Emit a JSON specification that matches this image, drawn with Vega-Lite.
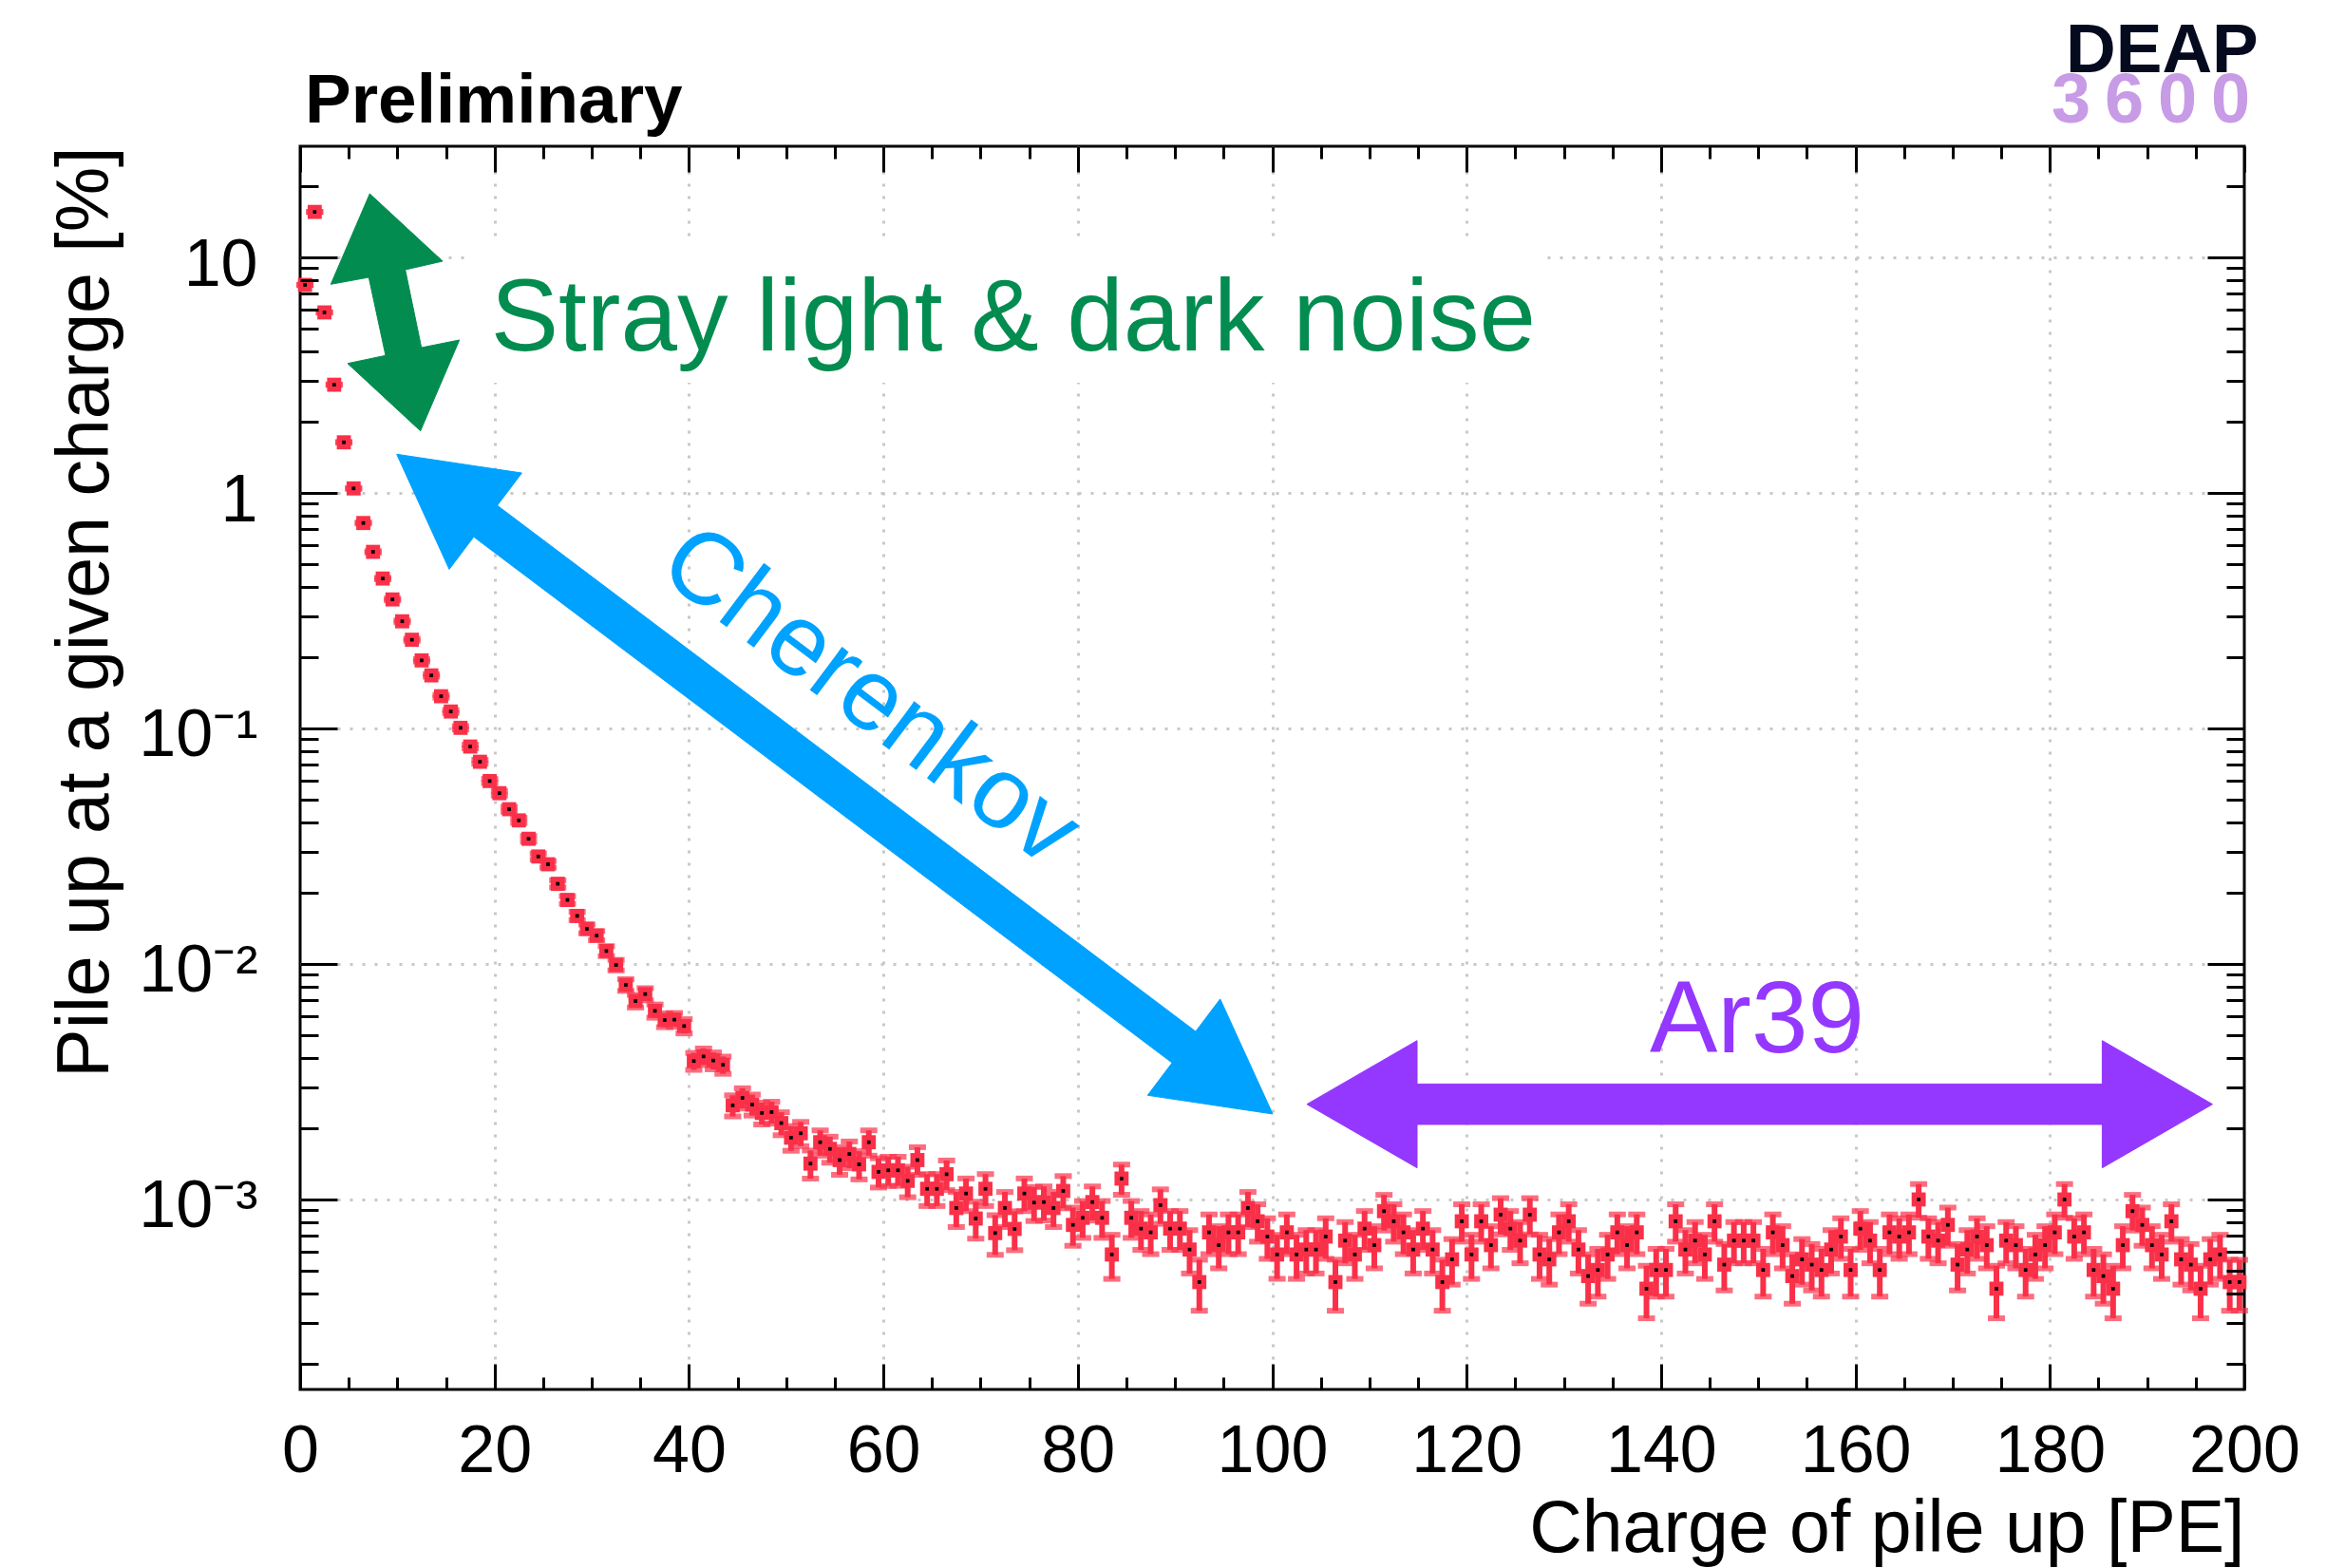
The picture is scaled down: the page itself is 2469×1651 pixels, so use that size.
{
  "$schema": "https://vega.github.io/schema/vega-lite/v6.json",
  "width": 2047,
  "height": 1309,
  "autosize": "none",
  "padding": {"left": 316, "top": 154, "right": 106, "bottom": 188},
  "background": "white",
  "config": {
    "view": {"stroke": "black", "strokeWidth": 3},
    "font": "Liberation Sans",
    "axis": {"labelFont": "Liberation Sans", "titleFont": "Liberation Sans", "labelColor": "black", "titleColor": "black", "tickColor": "black", "titleFontWeight": "normal"}
  },
  "resolve": {"axis": {"x": "independent", "y": "independent"}},
  "datasets": {
    "h": [
      {"q":0.5,"v":7.64,"e":0.0142},{"q":1.5,"v":15.6,"e":0.0203},{"q":2.5,"v":5.84,"e":0.0124},{"q":3.5,"v":2.88,"e":0.00874},{"q":4.5,"v":1.64,"e":0.00659},
      {"q":5.5,"v":1.045,"e":0.00526},{"q":6.5,"v":0.745,"e":0.00444},{"q":7.5,"v":0.562,"e":0.00386},{"q":8.5,"v":0.433,"e":0.00339},{"q":9.5,"v":0.353,"e":0.00306},
      {"q":10.5,"v":0.285,"e":0.00275},{"q":11.5,"v":0.238,"e":0.00251},{"q":12.5,"v":0.1945,"e":0.00227},{"q":13.5,"v":0.168,"e":0.00211},{"q":14.5,"v":0.137,"e":0.00191},
      {"q":15.5,"v":0.118,"e":0.00177},{"q":16.5,"v":0.1006,"e":0.00163},{"q":17.5,"v":0.0838,"e":0.00149},{"q":18.5,"v":0.0722,"e":0.00138},{"q":19.5,"v":0.0598,"e":0.00126},
      {"q":20.5,"v":0.0531,"e":0.00119},{"q":21.5,"v":0.0454,"e":0.0011},{"q":22.5,"v":0.0407,"e":0.00104},{"q":23.5,"v":0.034,"e":0.00095},{"q":24.5,"v":0.0286,"e":0.00087},
      {"q":25.5,"v":0.0265,"e":0.00084},{"q":26.5,"v":0.0219,"e":0.00076},{"q":27.5,"v":0.0187,"e":0.0007},{"q":28.5,"v":0.016,"e":0.00065},{"q":29.5,"v":0.0141,"e":0.00061},
      {"q":30.5,"v":0.0132,"e":0.00059},{"q":31.5,"v":0.01135,"e":0.00055},{"q":32.5,"v":0.0099,"e":0.00051},{"q":33.5,"v":0.00815,"e":0.000465},{"q":34.5,"v":0.00696,"e":0.000429},
      {"q":35.5,"v":0.00745,"e":0.000444},{"q":36.5,"v":0.00632,"e":0.000409},{"q":37.5,"v":0.00578,"e":0.000391},{"q":38.5,"v":0.0058,"e":0.000392},{"q":39.5,"v":0.00545,"e":0.00038},
      {"q":40.5,"v":0.00387,"e":0.00032},{"q":41.5,"v":0.00405,"e":0.000328},{"q":42.5,"v":0.00389,"e":0.000321},{"q":43.5,"v":0.00373,"e":0.000314},{"q":44.5,"v":0.00251,"e":0.000258},
      {"q":45.5,"v":0.0027,"e":0.000267},{"q":46.5,"v":0.00253,"e":0.000259},{"q":47.5,"v":0.00233,"e":0.000248},{"q":48.5,"v":0.00235,"e":0.00025},{"q":49.5,"v":0.00211,"e":0.000236},
      {"q":50.5,"v":0.00183,"e":0.00022},{"q":51.5,"v":0.00191,"e":0.000225},{"q":52.5,"v":0.00142,"e":0.000194},{"q":53.5,"v":0.00175,"e":0.000215},{"q":54.5,"v":0.00164,"e":0.000208},
      {"q":55.5,"v":0.00147,"e":0.000197},{"q":56.5,"v":0.00156,"e":0.000203},{"q":57.5,"v":0.00141,"e":0.000193},{"q":58.5,"v":0.00175,"e":0.000215},{"q":59.5,"v":0.00131,"e":0.000186},
      {"q":60.5,"v":0.00133,"e":0.000188},{"q":61.5,"v":0.00133,"e":0.000188},{"q":62.5,"v":0.0012,"e":0.000178},{"q":63.5,"v":0.00147,"e":0.000197},{"q":64.5,"v":0.00111,"e":0.000172},
      {"q":65.5,"v":0.00111,"e":0.000172},{"q":66.5,"v":0.00128,"e":0.000184},{"q":67.5,"v":0.00092,"e":0.000156},{"q":68.5,"v":0.00106,"e":0.000168},{"q":69.5,"v":0.00083,"e":0.000148},
      {"q":70.5,"v":0.00111,"e":0.000172},{"q":71.5,"v":0.00072,"e":0.000138},{"q":72.5,"v":0.00092,"e":0.000156},{"q":73.5,"v":0.00075,"e":0.000141},{"q":74.5,"v":0.00106,"e":0.000168},
      {"q":75.5,"v":0.00097,"e":0.00016},{"q":76.5,"v":0.000975,"e":0.000161},{"q":77.5,"v":0.00092,"e":0.000156},{"q":78.5,"v":0.001087,"e":0.00017},{"q":79.5,"v":0.00078,"e":0.000144},
      {"q":80.5,"v":0.000836,"e":0.000149},{"q":81.5,"v":0.000975,"e":0.000161},{"q":82.5,"v":0.000836,"e":0.000149},{"q":83.5,"v":0.000584,"e":0.000124},{"q":84.5,"v":0.001227,"e":0.00018},
      {"q":85.5,"v":0.000836,"e":0.000149},{"q":86.5,"v":0.000752,"e":0.000141},{"q":87.5,"v":0.000725,"e":0.000139},{"q":88.5,"v":0.000946,"e":0.000158},{"q":89.5,"v":0.000752,"e":0.000141},
      {"q":90.5,"v":0.000752,"e":0.000141},{"q":91.5,"v":0.000613,"e":0.000128},{"q":92.5,"v":0.000446,"e":0.000109},{"q":93.5,"v":0.000725,"e":0.000139},{"q":94.5,"v":0.00064,"e":0.00013},
      {"q":95.5,"v":0.000725,"e":0.000139},{"q":96.5,"v":0.000725,"e":0.000139},{"q":97.5,"v":0.00092,"e":0.000156},{"q":98.5,"v":0.000808,"e":0.000146},{"q":99.5,"v":0.000696,"e":0.000136},
      {"q":100.5,"v":0.000584,"e":0.000124},{"q":101.5,"v":0.000725,"e":0.000139},{"q":102.5,"v":0.000584,"e":0.000124},{"q":103.5,"v":0.000613,"e":0.000128},{"q":104.5,"v":0.000613,"e":0.000128},
      {"q":105.5,"v":0.000696,"e":0.000136},{"q":106.5,"v":0.000446,"e":0.000109},{"q":107.5,"v":0.000669,"e":0.000133},{"q":108.5,"v":0.000584,"e":0.000124},{"q":109.5,"v":0.000752,"e":0.000141},
      {"q":110.5,"v":0.00064,"e":0.00013},{"q":111.5,"v":0.000892,"e":0.000154},{"q":112.5,"v":0.000808,"e":0.000146},{"q":113.5,"v":0.000725,"e":0.000139},{"q":114.5,"v":0.000613,"e":0.000128},
      {"q":115.5,"v":0.000752,"e":0.000141},{"q":116.5,"v":0.000613,"e":0.000128},{"q":117.5,"v":0.000446,"e":0.000109},{"q":118.5,"v":0.000557,"e":0.000122},{"q":119.5,"v":0.000808,"e":0.000146},
      {"q":120.5,"v":0.000584,"e":0.000124},{"q":121.5,"v":0.000808,"e":0.000146},{"q":122.5,"v":0.00064,"e":0.00013},{"q":123.5,"v":0.000862,"e":0.000151},{"q":124.5,"v":0.000752,"e":0.000141},
      {"q":125.5,"v":0.000669,"e":0.000133},{"q":126.5,"v":0.000862,"e":0.000151},{"q":127.5,"v":0.000584,"e":0.000124},{"q":128.5,"v":0.000557,"e":0.000122},{"q":129.5,"v":0.000725,"e":0.000139},
      {"q":130.5,"v":0.000808,"e":0.000146},{"q":131.5,"v":0.000613,"e":0.000128},{"q":132.5,"v":0.000473,"e":0.000112},{"q":133.5,"v":0.000502,"e":0.000115},{"q":134.5,"v":0.000584,"e":0.000124},
      {"q":135.5,"v":0.000725,"e":0.000139},{"q":136.5,"v":0.00064,"e":0.00013},{"q":137.5,"v":0.000725,"e":0.000139},{"q":138.5,"v":0.000418,"e":0.000105},{"q":139.5,"v":0.000502,"e":0.000115},
      {"q":140.5,"v":0.000502,"e":0.000115},{"q":141.5,"v":0.000808,"e":0.000146},{"q":142.5,"v":0.000613,"e":0.000128},{"q":143.5,"v":0.000669,"e":0.000133},{"q":144.5,"v":0.000584,"e":0.000124},
      {"q":145.5,"v":0.000808,"e":0.000146},{"q":146.5,"v":0.000529,"e":0.000118},{"q":147.5,"v":0.000669,"e":0.000133},{"q":148.5,"v":0.000669,"e":0.000133},{"q":149.5,"v":0.000669,"e":0.000133},
      {"q":150.5,"v":0.000502,"e":0.000115},{"q":151.5,"v":0.000725,"e":0.000139},{"q":152.5,"v":0.00064,"e":0.00013},{"q":153.5,"v":0.000473,"e":0.000112},{"q":154.5,"v":0.000557,"e":0.000122},
      {"q":155.5,"v":0.000529,"e":0.000118},{"q":156.5,"v":0.000502,"e":0.000115},{"q":157.5,"v":0.000613,"e":0.000128},{"q":158.5,"v":0.000696,"e":0.000136},{"q":159.5,"v":0.000502,"e":0.000115},
      {"q":160.5,"v":0.000752,"e":0.000141},{"q":161.5,"v":0.000669,"e":0.000133},{"q":162.5,"v":0.000502,"e":0.000115},{"q":163.5,"v":0.000725,"e":0.000139},{"q":164.5,"v":0.000696,"e":0.000136},
      {"q":165.5,"v":0.000725,"e":0.000139},{"q":166.5,"v":0.001,"e":0.000163},{"q":167.5,"v":0.000696,"e":0.000136},{"q":168.5,"v":0.000669,"e":0.000133},{"q":169.5,"v":0.00078,"e":0.000144},
      {"q":170.5,"v":0.000529,"e":0.000118},{"q":171.5,"v":0.000613,"e":0.000128},{"q":172.5,"v":0.000696,"e":0.000136},{"q":173.5,"v":0.00064,"e":0.00013},{"q":174.5,"v":0.000418,"e":0.000105},
      {"q":175.5,"v":0.000669,"e":0.000133},{"q":176.5,"v":0.00064,"e":0.00013},{"q":177.5,"v":0.000502,"e":0.000115},{"q":178.5,"v":0.000584,"e":0.000124},{"q":179.5,"v":0.00064,"e":0.00013},
      {"q":180.5,"v":0.000725,"e":0.000139},{"q":181.5,"v":0.001,"e":0.000163},{"q":182.5,"v":0.000696,"e":0.000136},{"q":183.5,"v":0.000725,"e":0.000139},{"q":184.5,"v":0.000502,"e":0.000115},
      {"q":185.5,"v":0.000473,"e":0.000112},{"q":186.5,"v":0.000418,"e":0.000105},{"q":187.5,"v":0.00064,"e":0.00013},{"q":188.5,"v":0.000892,"e":0.000154},{"q":189.5,"v":0.00078,"e":0.000144},
      {"q":190.5,"v":0.00064,"e":0.00013},{"q":191.5,"v":0.000584,"e":0.000124},{"q":192.5,"v":0.000808,"e":0.000146},{"q":193.5,"v":0.000557,"e":0.000122},{"q":194.5,"v":0.000529,"e":0.000118},
      {"q":195.5,"v":0.000418,"e":0.000105},{"q":196.5,"v":0.000557,"e":0.000122},{"q":197.5,"v":0.000584,"e":0.000124},{"q":198.5,"v":0.000446,"e":0.000109},{"q":199.5,"v":0.000446,"e":0.000109}
    ],
    "arrows": [
      {"id":"g","o":1,"q":7.162,"v":18.63},{"id":"g","o":2,"q":14.656,"v":9.636},{"id":"g","o":3,"q":10.816,"v":8.862},{"id":"g","o":4,"q":12.477,"v":4.14},{"id":"g","o":5,"q":16.385,"v":4.459},
      {"id":"g","o":6,"q":12.379,"v":1.8337},{"id":"g","o":7,"q":4.885,"v":3.5448},{"id":"g","o":8,"q":8.793,"v":3.8323},{"id":"g","o":9,"q":7.064,"v":8.228},{"id":"g","o":10,"q":3.156,"v":7.69},
      {"id":"b","o":1,"q":9.937,"v":1.4592},{"id":"b","o":2,"q":22.804,"v":1.215},{"id":"b","o":3,"q":20.284,"v":0.88475},{"id":"b","o":4,"q":92.125,"v":0.005168},{"id":"b","o":5,"q":94.646,"v":0.007099},
      {"id":"b","o":6,"q":100.049,"v":0.0023065},{"id":"b","o":7,"q":87.181,"v":0.0027694},{"id":"b","o":8,"q":89.702,"v":0.0038038},{"id":"b","o":9,"q":17.86,"v":0.65114},{"id":"b","o":10,"q":15.34,"v":0.47398},
      {"id":"p","o":1,"q":103.566,"v":0.0025375},{"id":"p","o":2,"q":114.9,"v":0.004727},{"id":"p","o":3,"q":114.9,"v":0.0030926},{"id":"p","o":4,"q":185.384,"v":0.0030926},{"id":"p","o":5,"q":185.384,"v":0.004727},
      {"id":"p","o":6,"q":196.727,"v":0.0025375},{"id":"p","o":7,"q":185.384,"v":0.0013624},{"id":"p","o":8,"q":185.384,"v":0.0020825},{"id":"p","o":9,"q":114.9,"v":0.0020825},{"id":"p","o":10,"q":114.9,"v":0.0013624}
    ]
  },
  "layer": [
    {
      "data": {"name": "h"},
      "mark": {"type": "point", "opacity": 0},
      "encoding": {
        "x": {"field": "q", "type": "quantitative", "scale": {"domain": [0, 200], "nice": false, "zero": false},
              "axis": {"orient": "bottom", "values": [20, 40, 60, 80, 100, 120, 140, 160, 180], "grid": true, "gridColor": "#c8c8c8", "gridDash": [3, 10], "gridWidth": 3, "ticks": false, "labels": false, "domain": false, "title": null, "zindex": 0}},
        "y": {"field": "v", "type": "quantitative", "scale": {"type": "log", "domain": [0.0001561, 29.64], "nice": false},
              "axis": {"orient": "left", "values": [0.001, 0.01, 0.1, 1, 10], "grid": true, "gridColor": "#c8c8c8", "gridDash": [3, 10], "gridWidth": 3, "ticks": false, "labels": false, "domain": false, "title": null, "zindex": 0}}
      }
    },
    {
      "data": {"name": "h"},
      "mark": {"type": "point", "opacity": 0},
      "encoding": {
        "x": {"field": "q", "type": "quantitative", "scale": {"domain": [0, 200], "nice": false, "zero": false},
              "axis": {"orient": "bottom", "values": [0, 20, 40, 60, 80, 100, 120, 140, 160, 180, 200], "grid": false, "ticks": false, "domain": false, "labelFontSize": 70, "labelPadding": 86, "labelBaseline": "alphabetic", "labelFlush": false, "labelOverlap": false,
                       "title": "Charge of pile up [PE]", "titleFontSize": 77, "titleX": 2047, "titleY": 170, "titleAlign": "right", "titleBaseline": "alphabetic", "titleAnchor": "end", "zindex": 1}},
        "y": {"field": "v", "type": "quantitative", "scale": {"type": "log", "domain": [0.0001561, 29.64], "nice": false},
              "axis": {"orient": "left", "values": [0.001, 0.01, 0.1, 1, 10], "grid": false, "ticks": false, "domain": false, "labelFontSize": 70, "labelPadding": 45, "labelAlign": "right", "labelBaseline": "middle", "labelOffset": 8, "labelFlush": false, "labelOverlap": false,
                       "labelExpr": "datum.value > 5 ? '10' : datum.value > 0.5 ? '1' : datum.value > 0.05 ? '10⁻¹' : datum.value > 0.005 ? '10⁻²' : '10⁻³'",
                       "title": "Pile up at a given charge [%]", "titleFontSize": 77, "titleAngle": -90, "titleAlign": "right", "titleBaseline": "alphabetic", "titleX": -203, "titleY": 0, "titleAnchor": "end", "zindex": 1}}
      }
    },
    {
      "data": {"name": "h"},
      "mark": {"type": "point", "opacity": 0},
      "encoding": {
        "x": {"field": "q", "type": "quantitative", "scale": {"domain": [0, 200], "nice": false, "zero": false},
              "axis": {"orient": "bottom", "values": [0, 20, 40, 60, 80, 100, 120, 140, 160, 180, 200], "grid": false, "ticks": true, "tickSize": -27, "tickWidth": 3, "labels": false, "domain": false, "title": null, "zindex": 1}},
        "y": {"field": "v", "type": "quantitative", "scale": {"type": "log", "domain": [0.0001561, 29.64], "nice": false},
              "axis": {"orient": "left", "values": [0.001, 0.01, 0.1, 1, 10], "grid": false, "ticks": true, "tickSize": -39, "tickWidth": 3, "labels": false, "domain": false, "title": null, "zindex": 1}}
      }
    },
    {
      "data": {"name": "h"},
      "mark": {"type": "point", "opacity": 0},
      "encoding": {
        "x": {"field": "q", "type": "quantitative", "scale": {"domain": [0, 200], "nice": false, "zero": false},
              "axis": {"orient": "bottom", "values": [5,10,15,25,30,35,45,50,55,65,70,75,85,90,95,105,110,115,125,130,135,145,150,155,165,170,175,185,190,195], "grid": false, "ticks": true, "tickSize": -13, "tickWidth": 3, "labels": false, "domain": false, "title": null, "zindex": 1}},
        "y": {"field": "v", "type": "quantitative", "scale": {"type": "log", "domain": [0.0001561, 29.64], "nice": false},
              "axis": {"orient": "left", "values": [0.0002,0.0003,0.0004,0.0005,0.0006,0.0007,0.0008,0.0009,0.002,0.003,0.004,0.005,0.006,0.007,0.008,0.009,0.02,0.03,0.04,0.05,0.06,0.07,0.08,0.09,0.2,0.3,0.4,0.5,0.6,0.7,0.8,0.9,2,3,4,5,6,7,8,9,20], "grid": false, "ticks": true, "tickSize": -19, "tickWidth": 3, "labels": false, "domain": false, "title": null, "zindex": 1}}
      }
    },
    {
      "data": {"name": "h"},
      "mark": {"type": "point", "opacity": 0},
      "encoding": {
        "x": {"field": "q", "type": "quantitative", "scale": {"domain": [0, 200], "nice": false, "zero": false},
              "axis": {"orient": "top", "values": [0, 20, 40, 60, 80, 100, 120, 140, 160, 180, 200], "grid": false, "ticks": true, "tickSize": -27, "tickWidth": 3, "labels": false, "domain": false, "title": null, "zindex": 1}},
        "y": {"field": "v", "type": "quantitative", "scale": {"type": "log", "domain": [0.0001561, 29.64], "nice": false},
              "axis": {"orient": "right", "values": [0.001, 0.01, 0.1, 1, 10], "grid": false, "ticks": true, "tickSize": -39, "tickWidth": 3, "labels": false, "domain": false, "title": null, "zindex": 1}}
      }
    },
    {
      "data": {"name": "h"},
      "mark": {"type": "point", "opacity": 0},
      "encoding": {
        "x": {"field": "q", "type": "quantitative", "scale": {"domain": [0, 200], "nice": false, "zero": false},
              "axis": {"orient": "top", "values": [5,10,15,25,30,35,45,50,55,65,70,75,85,90,95,105,110,115,125,130,135,145,150,155,165,170,175,185,190,195], "grid": false, "ticks": true, "tickSize": -13, "tickWidth": 3, "labels": false, "domain": false, "title": null, "zindex": 1}},
        "y": {"field": "v", "type": "quantitative", "scale": {"type": "log", "domain": [0.0001561, 29.64], "nice": false},
              "axis": {"orient": "right", "values": [0.0002,0.0003,0.0004,0.0005,0.0006,0.0007,0.0008,0.0009,0.002,0.003,0.004,0.005,0.006,0.007,0.008,0.009,0.02,0.03,0.04,0.05,0.06,0.07,0.08,0.09,0.2,0.3,0.4,0.5,0.6,0.7,0.8,0.9,2,3,4,5,6,7,8,9,20], "grid": false, "ticks": true, "tickSize": -19, "tickWidth": 3, "labels": false, "domain": false, "title": null, "zindex": 1}}
      }
    },
    {
      "data": {"values": [{"q": 17.68, "q2": 127.6, "v": 12.15, "v2": 2.936}]},
      "mark": {"type": "rect", "color": "white"},
      "encoding": {
        "x": {"field": "q", "type": "quantitative", "scale": {"domain": [0, 200], "nice": false, "zero": false}, "axis": null},
        "x2": {"field": "q2"},
        "y": {"field": "v", "type": "quantitative", "scale": {"type": "log", "domain": [0.0001561, 29.64], "nice": false}, "axis": null},
        "y2": {"field": "v2"}
      }
    },
    {
      "data": {"name": "h"},
      "mark": {"type": "errorbar", "ticks": {"size": 18, "thickness": 6}, "rule": {"strokeWidth": 6}, "size": 18, "thickness": 6, "color": "#fa3049"},
      "encoding": {
        "x": {"field": "q", "type": "quantitative", "scale": {"domain": [0, 200], "nice": false, "zero": false}, "axis": null},
        "y": {"field": "v", "type": "quantitative", "scale": {"type": "log", "domain": [0.0001561, 29.64], "nice": false}, "axis": null},
        "yError": {"field": "e"}
      }
    },
    {
      "data": {"name": "h"},
      "mark": {"type": "square", "size": 220, "color": "#fa3049", "opacity": 1, "filled": true},
      "encoding": {
        "x": {"field": "q", "type": "quantitative", "scale": {"domain": [0, 200], "nice": false, "zero": false}, "axis": null},
        "y": {"field": "v", "type": "quantitative", "scale": {"type": "log", "domain": [0.0001561, 29.64], "nice": false}, "axis": null}
      }
    },
    {
      "data": {"name": "h"},
      "mark": {"type": "square", "size": 14, "color": "black", "opacity": 1, "filled": true},
      "encoding": {
        "x": {"field": "q", "type": "quantitative", "scale": {"domain": [0, 200], "nice": false, "zero": false}, "axis": null},
        "y": {"field": "v", "type": "quantitative", "scale": {"type": "log", "domain": [0.0001561, 29.64], "nice": false}, "axis": null}
      }
    },
    {
      "data": {"name": "arrows"},
      "mark": {"type": "line", "interpolate": "linear-closed", "strokeWidth": 1},
      "encoding": {
        "x": {"field": "q", "type": "quantitative", "scale": {"domain": [0, 200], "nice": false, "zero": false}, "axis": null},
        "y": {"field": "v", "type": "quantitative", "scale": {"type": "log", "domain": [0.0001561, 29.64], "nice": false}, "axis": null},
        "order": {"field": "o", "type": "quantitative"},
        "detail": {"field": "id", "type": "nominal"},
        "fill": {"field": "id", "type": "nominal", "scale": {"domain": ["g", "b", "p"], "range": ["#038c4f", "#00a2ff", "#9437ff"]}, "legend": null},
        "stroke": {"field": "id", "type": "nominal", "scale": {"domain": ["g", "b", "p"], "range": ["#038c4f", "#00a2ff", "#9437ff"]}, "legend": null}
      }
    },
    {
      "data": {"values": [{"t": "Stray light & dark noise", "q": 19.61, "v": 4.015}]},
      "mark": {"type": "text", "fontSize": 107, "font": "Liberation Sans", "color": "#038c4f", "align": "left", "baseline": "alphabetic"},
      "encoding": {
        "x": {"field": "q", "type": "quantitative", "scale": {"domain": [0, 200], "nice": false, "zero": false}, "axis": null},
        "y": {"field": "v", "type": "quantitative", "scale": {"type": "log", "domain": [0.0001561, 29.64], "nice": false}, "axis": null},
        "text": {"field": "t"}
      }
    },
    {
      "data": {"values": [{"t": "Cherenkov", "q": 58.62, "v": 0.13585}]},
      "mark": {"type": "text", "fontSize": 107, "font": "Liberation Sans", "color": "#00a2ff", "align": "center", "baseline": "middle", "angle": 37},
      "encoding": {
        "x": {"field": "q", "type": "quantitative", "scale": {"domain": [0, 200], "nice": false, "zero": false}, "axis": null},
        "y": {"field": "v", "type": "quantitative", "scale": {"type": "log", "domain": [0.0001561, 29.64], "nice": false}, "axis": null},
        "text": {"field": "t"}
      }
    },
    {
      "data": {"values": [{"t": "Ar39", "q": 149.88, "v": 0.004197}]},
      "mark": {"type": "text", "fontSize": 107, "font": "Liberation Sans", "color": "#9437ff", "align": "center", "baseline": "alphabetic"},
      "encoding": {
        "x": {"field": "q", "type": "quantitative", "scale": {"domain": [0, 200], "nice": false, "zero": false}, "axis": null},
        "y": {"field": "v", "type": "quantitative", "scale": {"type": "log", "domain": [0.0001561, 29.64], "nice": false}, "axis": null},
        "text": {"field": "t"}
      }
    },
    {
      "data": {"values": [{"t": "Preliminary", "q": 0.489, "v": 37.27}]},
      "mark": {"type": "text", "fontSize": 73, "font": "Liberation Sans", "fontWeight": "bold", "color": "black", "align": "left", "baseline": "alphabetic"},
      "encoding": {
        "x": {"field": "q", "type": "quantitative", "scale": {"domain": [0, 200], "nice": false, "zero": false}, "axis": null},
        "y": {"field": "v", "type": "quantitative", "scale": {"type": "log", "domain": [0.0001561, 29.64], "nice": false}, "axis": null},
        "text": {"field": "t"}
      }
    },
    {
      "data": {"values": [{"t": "DEAP", "q": 181.63, "v": 61.14}]},
      "mark": {"type": "text", "fontSize": 73, "font": "Liberation Sans", "fontWeight": "bold", "color": "#060a1e", "align": "left", "baseline": "alphabetic"},
      "encoding": {
        "x": {"field": "q", "type": "quantitative", "scale": {"domain": [0, 200], "nice": false, "zero": false}, "axis": null},
        "y": {"field": "v", "type": "quantitative", "scale": {"type": "log", "domain": [0.0001561, 29.64], "nice": false}, "axis": null},
        "text": {"field": "t"}
      }
    },
    {
      "data": {"values": [{"t": "3\u20096\u20090\u20090", "q": 200.6, "v": 37.27}]},
      "mark": {"type": "text", "fontSize": 74, "font": "Liberation Sans", "fontWeight": "bold", "color": "#c89be6", "align": "right", "baseline": "alphabetic"},
      "encoding": {
        "x": {"field": "q", "type": "quantitative", "scale": {"domain": [0, 200], "nice": false, "zero": false}, "axis": null},
        "y": {"field": "v", "type": "quantitative", "scale": {"type": "log", "domain": [0.0001561, 29.64], "nice": false}, "axis": null},
        "text": {"field": "t"}
      }
    }
  ]
}
